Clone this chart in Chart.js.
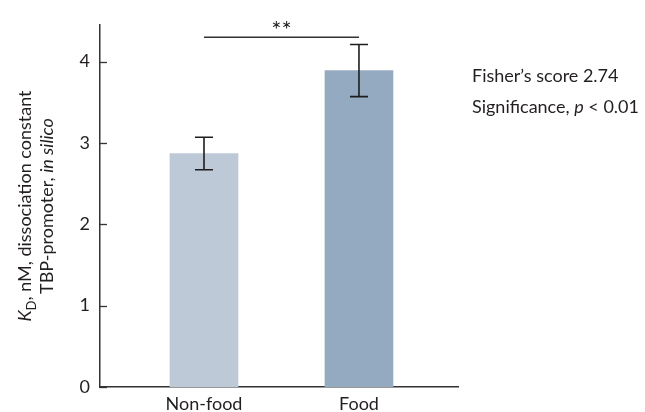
<!DOCTYPE html>
<html>
<head>
<meta charset="utf-8">
<script src="https://cdn.jsdelivr.net/npm/chart.js@4"></script>
<style>
  html, body { margin: 0; padding: 0; background: #ffffff; }
  #wrap { width: 645px; height: 412px; position: relative; }
</style>
</head>
<body>
<div id="wrap"><canvas id="chart" width="645" height="412"></canvas></div>
<script>
// Binding constants of TBP to promoters, in silico
const categories = ['Non-food', 'Food'];
const means = [2.87, 3.89];
const errors = [0.20, 0.32];
const yTicks = [0, 1, 2, 3, 4];
const barColors = ['#bec9d8', '#94aac1'];
const sigLevel = 4.3;
const sigMark = '**';
const statLines = [
  [{ t: 'Fisher\u2019s score 2.74' }],
  [{ t: 'Significance, ' }, { t: 'p', italic: true }, { t: ' < 0.01' }]
];
const yTitleLines = [
  [{ t: 'K', italic: true }, { t: 'D', sub: true }, { t: ', nM, dissociation constant' }],
  [{ t: 'TBP-promoter, ' }, { t: 'in silico', italic: true }]
];

const FONT = 'Lato, "Open Sans", sans-serif';
const FS = 18;
const TEXT = '#231f20';
const LINE = '#333333';

function fontFor(seg, size) {
  const s = seg.sub ? Math.round(size * 0.72) : size;
  return (seg.italic ? 'italic ' : '') + s + 'px ' + FONT;
}
function richWidth(ctx, segs, size) {
  let w = 0;
  segs.forEach(s => { ctx.font = fontFor(s, size); w += ctx.measureText(s.t).width; });
  return w;
}
function drawRich(ctx, segs, x, y, size, align) {
  let cx = align === 'center' ? x - richWidth(ctx, segs, size) / 2 : x;
  ctx.textBaseline = 'alphabetic';
  ctx.textAlign = 'left';
  segs.forEach(s => {
    ctx.font = fontFor(s, size);
    ctx.fillText(s.t, cx, y + (s.sub ? size * 0.28 : 0));
    cx += ctx.measureText(s.t).width;
  });
}

const decorations = {
  id: 'decorations',
  afterDatasetsDraw(chart) {
    const ctx = chart.ctx;
    const y = chart.scales.y;
    const meta = chart.getDatasetMeta(0);
    ctx.save();
    ctx.fillStyle = TEXT;

    // inward tick marks on the value axis
    ctx.strokeStyle = LINE;
    ctx.lineWidth = 1.3;
    yTicks.forEach(v => {
      const py = Math.round(y.getPixelForValue(v)) + 0.5;
      ctx.beginPath();
      ctx.moveTo(chart.chartArea.left, py);
      ctx.lineTo(chart.chartArea.left + 7, py);
      ctx.stroke();
    });

    // error bars
    ctx.strokeStyle = '#1e1e1e';
    ctx.lineWidth = 1.6;
    meta.data.forEach((bar, i) => {
      const top = y.getPixelForValue(means[i] + errors[i]);
      const bot = y.getPixelForValue(means[i] - errors[i]);
      ctx.beginPath();
      ctx.moveTo(bar.x, top); ctx.lineTo(bar.x, bot);
      ctx.moveTo(bar.x - 9, top); ctx.lineTo(bar.x + 9, top);
      ctx.moveTo(bar.x - 9, bot); ctx.lineTo(bar.x + 9, bot);
      ctx.stroke();
    });

    // significance bracket
    const sy = y.getPixelForValue(sigLevel);
    ctx.strokeStyle = LINE;
    ctx.lineWidth = 1.4;
    ctx.beginPath();
    ctx.moveTo(meta.data[0].x, sy);
    ctx.lineTo(meta.data[1].x, sy);
    ctx.stroke();
    ctx.font = '24px ' + FONT;
    ctx.textAlign = 'center';
    ctx.textBaseline = 'alphabetic';
    ctx.fillText(sigMark, (meta.data[0].x + meta.data[1].x) / 2, sy + 1);

    // statistics note
    statLines.forEach((segs, i) => drawRich(ctx, segs, 472, 82 + i * 31, FS, 'left'));

    // value axis title
    ctx.translate(0, (chart.chartArea.top + chart.chartArea.bottom) / 2);
    ctx.rotate(-Math.PI / 2);
    drawRich(ctx, yTitleLines[0], 0, 31, FS, 'center');
    drawRich(ctx, yTitleLines[1], 0, 53, FS, 'center');
    ctx.restore();
  }
};

new Chart(document.getElementById('chart'), {
  type: 'bar',
  data: {
    datasets: [{
      data: means.map((v, i) => ({ x: i, y: v })),
      backgroundColor: barColors,
      borderWidth: 0,
      barThickness: 68
    }]
  },
  options: {
    responsive: false,
    animation: false,
    layout: { padding: { left: 0, right: 187, top: 25, bottom: 0 } },
    plugins: { legend: { display: false }, tooltip: { enabled: false } },
    scales: {
      x: {
        type: 'linear',
        offset: false,
        min: -0.671,
        max: 1.639,
        afterBuildTicks(s) { s.ticks = categories.map((c, i) => ({ value: i })); },
        afterFit(s) { s.height = 25; },
        ticks: {
          callback: v => categories[v],
          font: { family: FONT, size: FS },
          color: TEXT,
          padding: 6,
          maxRotation: 0
        },
        grid: { display: false, drawTicks: false },
        border: { display: true, color: LINE, width: 1.5 }
      },
      y: {
        min: 0,
        max: 4.45,
        afterBuildTicks(s) { s.ticks = yTicks.map(v => ({ value: v })); },
        afterFit(s) { s.width = 100; },
        ticks: {
          font: { family: FONT, size: FS },
          color: TEXT,
          padding: 10
        },
        grid: { display: false, drawTicks: false },
        border: { display: true, color: LINE, width: 1.5 }
      }
    }
  },
  plugins: [decorations]
});
</script>
</body>
</html>
